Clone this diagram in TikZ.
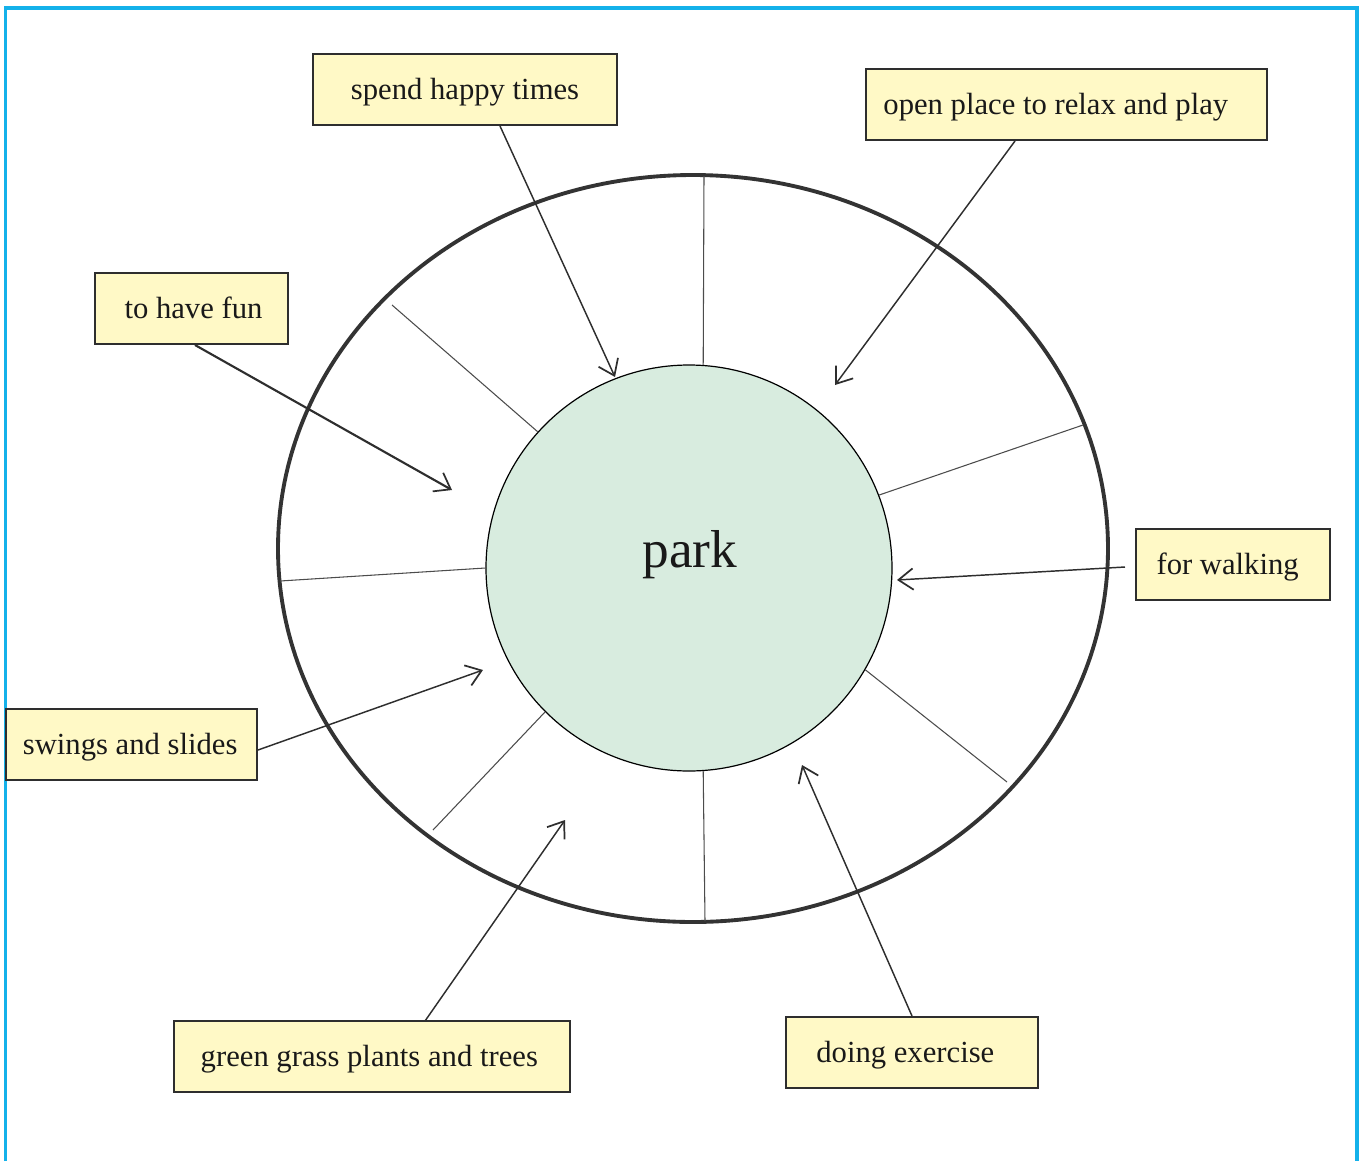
\documentclass[tikz,border=0pt]{standalone}
\usepackage{fontspec}
\setmainfont{Liberation Serif}
\usetikzlibrary{arrows.meta}
\definecolor{frameblue}{HTML}{14B1EA}
\definecolor{boxfill}{HTML}{FFF9C6}
\definecolor{parkfill}{HTML}{D8ECDF}
\definecolor{ink}{HTML}{2E2E2E}
\tikzset{
  lbl/.style={draw=ink, line width=1.1pt, fill=boxfill, inner sep=0pt,
    text height=20pt, text depth=4.7pt,
    minimum height=71*0.75pt, font=\fontsize{23}{27}\selectfont, text=black!90},
  arr/.style={draw=ink, line width=1.1pt, -{Straight Barb[length=11pt,width=16pt,line width=1.3pt]}},
  spoke/.style={draw=black!70, line width=0.8pt}
}
\begin{document}
\begin{tikzpicture}[x=0.75pt,y=-0.75pt]
\useasboundingbox (0,0) rectangle (1361,1161);
% frame
\draw[frameblue, line width=2.3pt] (5.5,1161) -- (5.5,8) -- (1357,8) -- (1357,1161);
% outer ring
\draw[black!80, line width=2.9pt] (693,548.5) ellipse [x radius=415, y radius=373.5];
% inner circle
\node[circle, draw=black, line width=0.9pt, fill=parkfill, minimum size=406*0.75pt, inner sep=0pt] (park) at (689,568) {};
\node[font=\fontsize{40}{44}\selectfont, text=black!90] (parktext) at (690,554.5) {park};
% spokes
\coordinate (o1) at (704,176);
\coordinate (o2) at (392,305);
\coordinate (o3) at (1083,425);
\coordinate (o4) at (280,581);
\coordinate (o5) at (1007,782);
\coordinate (o6) at (433,830);
\coordinate (o7) at (705,921);
\draw[spoke] (park.86.3) -- (o1);
\draw[spoke] (park.138.2) -- (o2);
\draw[spoke] (park.21.7) -- (o3);
\draw[spoke] (park.180.3) -- (o4);
\draw[spoke] (park.-30.8) -- (o5);
\draw[spoke] (park.225.4) -- (o6);
\draw[spoke] (park.-86.3) -- (o7);
% boxes
\node[lbl, minimum width=304*0.75pt] (spend) at (465,89.5) {spend happy times};
\node[lbl, minimum width=401*0.75pt] (open) at (1066.5,104.5) {\hspace*{-16pt}open place to relax and play};
\node[lbl, minimum width=193*0.75pt] (fun) at (191.5,308.5) {\hspace*{3pt}to have fun};
\node[lbl, minimum width=194*0.75pt] (walk) at (1233,564.5) {\hspace*{-8pt}for walking};
\node[lbl, minimum width=251*0.75pt] (swing) at (131.5,744.5) {\hspace*{-2pt}swings and slides};
\node[lbl, minimum width=396*0.75pt] (grass) at (372,1056.5) {\hspace*{-4pt}green grass plants and trees};
\node[lbl, minimum width=252*0.75pt] (exer) at (912,1052.5) {\hspace*{-10pt}doing exercise};
% arrow ends
\coordinate (s1) at (500,126);  \coordinate (t1) at (615,377);
\coordinate (s2) at (1015,141); \coordinate (t2) at (835,385);
\coordinate (s3) at (195,345);  \coordinate (t3) at (452,490);
\coordinate (s4) at (1125,567); \coordinate (t4) at (897,580);
\coordinate (s5) at (258,750);  \coordinate (t5) at (483,670);
\coordinate (s6) at (425,1021); \coordinate (t6) at (565,820);
\coordinate (s7) at (912,1016); \coordinate (t7) at (802,765);
\draw[arr] (s1) -- (t1);
\draw[arr] (s2) -- (t2);
\draw[arr, line width=1.6pt] (s3) -- (t3);
\draw[arr] (s4) -- (t4);
\draw[arr] (s5) -- (t5);
\draw[arr] (s6) -- (t6);
\draw[arr] (s7) -- (t7);
\end{tikzpicture}
\end{document}
